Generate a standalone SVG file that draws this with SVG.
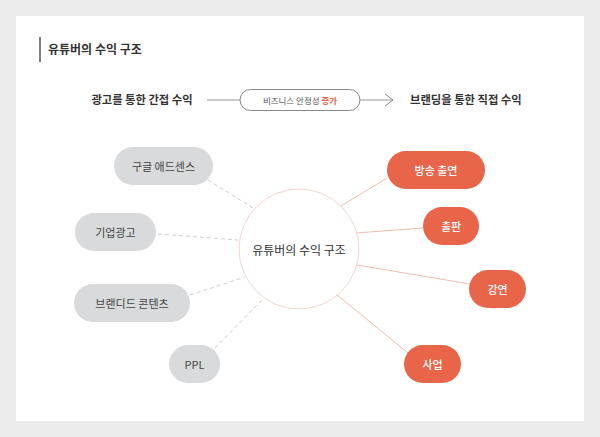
<svg xmlns="http://www.w3.org/2000/svg" width="600" height="437" viewBox="0 0 600 437">
<style>
text{font-family:"Noto Sans CJK KR","Noto Sans",sans-serif;}
.g rect{fill:#d9dadb;}
.g text{fill:#444;font-size:11px;text-anchor:middle;dominant-baseline:central;}
.o rect{fill:#e8654a;}
.o text{fill:#fff;font-size:11px;text-anchor:middle;dominant-baseline:central;font-weight:500;}
.gl{stroke:#cfcfcf;stroke-width:1;stroke-dasharray:4 3;fill:none;}
.ol{stroke:#f0bdb0;stroke-width:1;fill:none;}
.h{font-size:11.3px;font-weight:700;fill:#333;}
</style>
<defs>
<marker id="chev" viewBox="0 0 8 14" refX="8" refY="7" markerWidth="8" markerHeight="14" markerUnits="userSpaceOnUse" orient="auto">
<path d="M0,1 L8,7 L0,13" fill="none" stroke="#888" stroke-width="1"/>
</marker>
</defs>
<rect x="0" y="0" width="600" height="437" fill="#ececec"/>
<rect x="16" y="16" width="568" height="405" fill="#fff"/>
<g id="title">
<line x1="40" y1="37" x2="40" y2="62" stroke="#555" stroke-width="1.5"/>
<text x="48" y="54" font-size="12" font-weight="700" fill="#333">유튜버의 수익 구조</text>
</g>
<g id="header">
<text class="h" x="142" y="104" text-anchor="middle">광고를 통한 간접 수익</text>
<line x1="207" y1="100" x2="240" y2="100" stroke="#999" stroke-width="1"/>
<rect x="240" y="89.5" width="120" height="21" rx="10.5" fill="#fff" stroke="#888" stroke-width="1"/>
<text x="300" y="103.5" font-size="8.5" text-anchor="middle" fill="#555">비즈니스 안정성 <tspan fill="#e8654a" font-weight="700">증가</tspan></text>
<line x1="360" y1="100" x2="393" y2="100" stroke="#999" stroke-width="1" marker-end="url(#chev)"/>
<text class="h" x="410" y="104">브랜딩을 통한 직접 수익</text>
</g>
<g id="connectors">
<line class="gl" x1="208" y1="180" x2="253" y2="208"/>
<line class="gl" x1="158" y1="234" x2="238" y2="240"/>
<line class="gl" x1="190" y1="295" x2="245" y2="277"/>
<line class="gl" x1="215" y1="348" x2="264" y2="298"/>
<line class="ol" x1="341" y1="206" x2="387" y2="178"/>
<line class="ol" x1="356" y1="233" x2="423" y2="228"/>
<line class="ol" x1="357" y1="265" x2="470" y2="284"/>
<line class="ol" x1="337" y1="295" x2="408" y2="353"/>
</g>
<g id="center">
<circle cx="299" cy="249" r="60" fill="#fff" stroke="#f2d6cf" stroke-width="1"/>
<text x="299" y="249" font-size="12" fill="#333" text-anchor="middle" dominant-baseline="central">유튜버의 수익 구조</text>
</g>
<g id="n-adsense" class="g"><rect x="114" y="147" width="99" height="38" rx="19"/><text x="163.5" y="166">구글 애드센스</text></g>
<g id="n-corp" class="g"><rect x="75" y="213" width="81" height="38" rx="19"/><text x="115.5" y="232">기업광고</text></g>
<g id="n-branded" class="g"><rect x="74" y="284" width="116" height="38" rx="19"/><text x="132" y="303">브랜디드 콘텐츠</text></g>
<g id="n-ppl" class="g"><rect x="169" y="345" width="51" height="38" rx="19"/><text x="194.5" y="364">PPL</text></g>
<g id="n-tv" class="o"><rect x="387" y="151" width="98" height="38" rx="19"/><text x="436" y="170">방송 출연</text></g>
<g id="n-pub" class="o"><rect x="423" y="207" width="56" height="38" rx="19"/><text x="451" y="226">출판</text></g>
<g id="n-lecture" class="o"><rect x="469" y="270" width="57" height="38" rx="19"/><text x="497.5" y="289">강연</text></g>
<g id="n-biz" class="o"><rect x="404" y="345" width="57" height="38" rx="19"/><text x="432.5" y="364">사업</text></g>
</svg>
